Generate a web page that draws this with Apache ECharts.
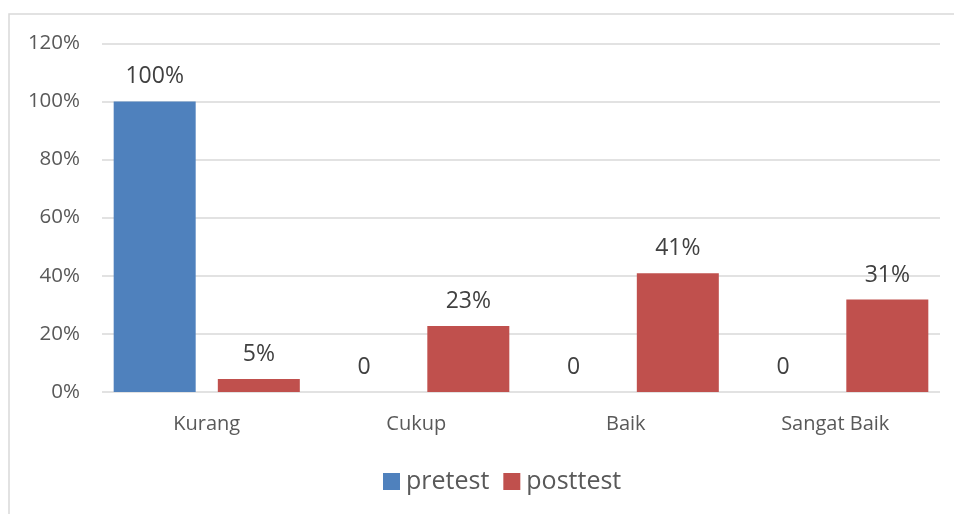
<!DOCTYPE html>
<html>
<head>
<meta charset="utf-8">
<script src="https://cdn.jsdelivr.net/npm/echarts@6/dist/echarts.min.js"></script>
<style>html,body{margin:0;padding:0;background:#fff}#c{width:954px;height:514px}</style>
</head>
<body>
<div id="c"></div>
<script>
var categories = ['Kurang', 'Cukup', 'Baik', 'Sangat Baik'];
var seriesNames = ['pretest', 'posttest'];
var pretest = [100, 0, 0, 0];
var posttest = [4.5, 22.7, 40.9, 31.8];
var pretestLabels = ['100%', '0', '0', '0'];
var posttestLabels = ['5%', '23%', '41%', '31%'];
var yTicks = [0, 20, 40, 60, 80, 100, 120];

var FONT = '"Open Sans", sans-serif';
var chart = echarts.init(document.getElementById('c'), null, {renderer: 'canvas'});
function lbl(arr) {
  return {
    show: true, position: 'top', distance: 13,
    fontFamily: FONT, fontSize: 23, color: '#404040',
    formatter: function (p) { return arr[p.dataIndex]; }
  };
}
chart.setOption({
  animation: false,
  backgroundColor: '#ffffff',
  graphic: [{
    type: 'rect', silent: true,
    shape: {x: 9, y: 14, width: 960, height: 540},
    style: {fill: 'none', stroke: '#d9d9d9', lineWidth: 1.5}
  }],
  grid: {left: 102, right: 14, top: 43.3, bottom: 122, containLabel: false},
  legend: {
    data: seriesNames, left: 378, top: 464,
    itemWidth: 17, itemHeight: 17, itemGap: 14,
    icon: 'rect',
    textStyle: {fontFamily: FONT, fontSize: 25, color: '#595959', padding: [0, 0, 0, 1]}
  },
  xAxis: {
    type: 'category', data: categories,
    axisLine: {show: false}, axisTick: {show: false},
    axisLabel: {fontFamily: FONT, fontSize: 20, color: '#595959', margin: 22}
  },
  yAxis: {
    type: 'value', min: yTicks[0], max: yTicks[yTicks.length - 1], interval: 20,
    axisLine: {show: false}, axisTick: {show: false},
    axisLabel: {fontFamily: FONT, fontSize: 20.5, color: '#595959', margin: 22, formatter: '{value}%'},
    splitLine: {lineStyle: {color: '#d9d9d9', width: 1.5}}
  },
  series: [
    {name: seriesNames[0], type: 'bar', data: pretest, barWidth: 82, barGap: '27%',
     itemStyle: {color: '#4F81BD'}, label: lbl(pretestLabels)},
    {name: seriesNames[1], type: 'bar', data: posttest, barWidth: 82, barGap: '27%',
     itemStyle: {color: '#C0504D'}, label: lbl(posttestLabels)}
  ]
});
</script>
</body>
</html>
